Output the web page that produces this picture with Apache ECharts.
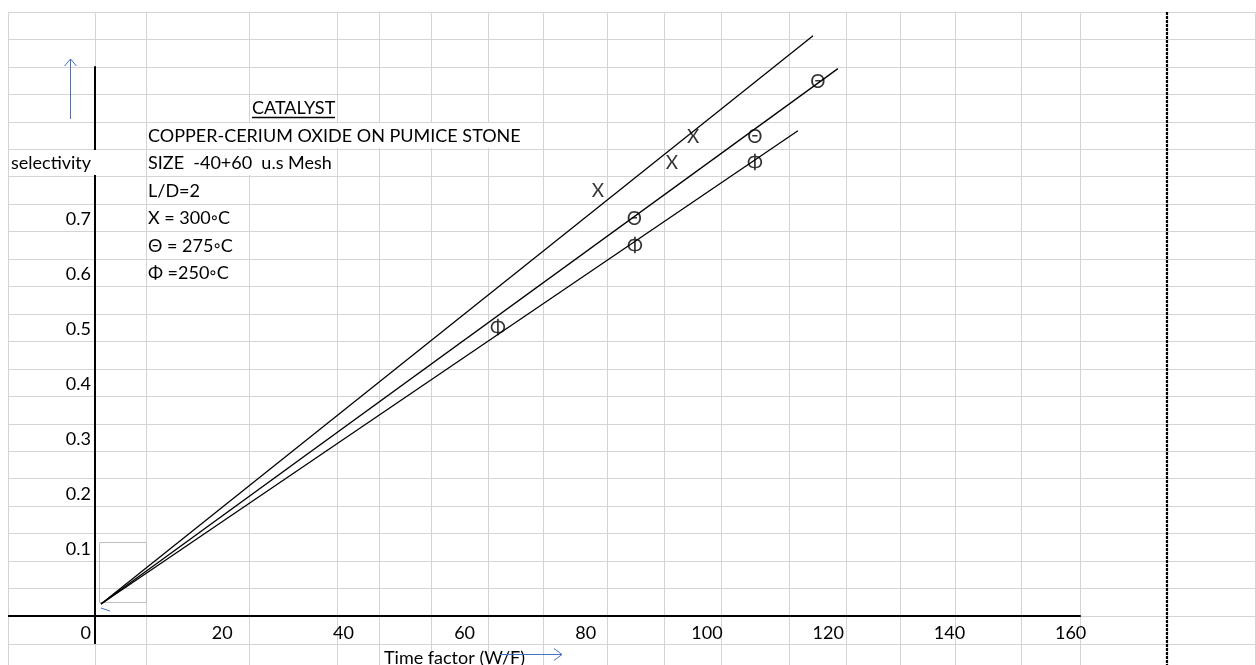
<!DOCTYPE html>
<html>
<head>
<meta charset="utf-8">
<script src="https://cdn.jsdelivr.net/npm/echarts@6/dist/echarts.min.js"></script>
<style>
html,body{margin:0;padding:0;background:#fff;}
#chart{width:1256px;height:665px;}
</style>
</head>
<body>
<div id="chart"></div>
<script>
// ---------------- data ----------------
const xTicks = [0, 20, 40, 60, 80, 100, 120, 140, 160];
const yTicks = [0.1, 0.2, 0.3, 0.4, 0.5, 0.6, 0.7];

// straight lines drawn from the origin for each temperature
const line300 = [[0, 0], [117.5, 1.035]];
const line275 = [[0, 0], [121.6, 0.975]];
const line250 = [[0, 0], [115.0, 0.862]];

// experimental points (time factor, selectivity)
const points300 = [[82.0, 0.752], [94.2, 0.803], [97.7, 0.851]];
const points275 = [[88.0, 0.701], [107.9, 0.851], [118.3, 0.951]];
const points250 = [[65.5, 0.503], [88.1, 0.652], [107.9, 0.803]];

const marker300 = 'X';
const marker275 = 'Θ';
const marker250 = 'Φ';

const noteTitle = 'CATALYST';
const noteLines = [
  'COPPER-CERIUM OXIDE ON PUMICE STONE',
  'SIZE  -40+60  u.s Mesh',
  'L/D=2',
  'X = 300◦C',
  'Θ = 275◦C',
  'Φ =250◦C'
];
const xName = 'Time factor (W/F)';
const yName = 'selectivity';

// ---------------- layout ----------------
const FONT = "Lato, 'DejaVu Sans', sans-serif";
const FS = 18;
const colEdges = [8, 95, 146, 249, 337, 379, 431, 488, 543, 607, 664, 721, 789, 846, 900, 955, 1021, 1080, 1167, 1255];
const rowEdges = [12, 39, 67, 94, 122, 149, 176, 204, 231, 259, 286, 314, 341, 369, 396, 424, 451, 478, 506, 533, 561, 588, 616, 644];
const W = 1256, H = 665;
const G = { left: 95, top: 67, right: 1080, bottom: 616 };
const xMin = -0.99, xMax = 161.55, yMin = -0.0219, yMax = 0.978;
const GRID_COLOR = '#d4d4d4';
const BLUE = '#4472C4';

const graphics = [];
// spreadsheet cell grid
colEdges.forEach(x => graphics.push({
  type: 'line', z: -3, silent: true,
  shape: { x1: x + 0.5, y1: rowEdges[0], x2: x + 0.5, y2: H },
  style: { stroke: GRID_COLOR, lineWidth: 1 }
}));
rowEdges.forEach(y => graphics.push({
  type: 'line', z: -3, silent: true,
  shape: { x1: colEdges[0], y1: y + 0.5, x2: W, y2: y + 0.5 },
  style: { stroke: GRID_COLOR, lineWidth: 1 }
}));
// text overflow hides cell borders
graphics.push({ type: 'rect', z: -2, silent: true, shape: { x: 147, y: 123, width: 395, height: 25 }, style: { fill: '#fff' } });
graphics.push({ type: 'rect', z: -2, silent: true, shape: { x: 147, y: 150, width: 189, height: 25 }, style: { fill: '#fff' } });
// page break
graphics.push({
  type: 'line', z: 1, silent: true,
  shape: { x1: 1167, y1: rowEdges[0], x2: 1167, y2: H },
  style: { stroke: '#000', lineWidth: 2.2, lineDash: [3, 1] }
});
// axis extensions beyond the plot area
graphics.push({ type: 'line', z: 1, silent: true, shape: { x1: colEdges[0], y1: G.bottom, x2: G.left, y2: G.bottom }, style: { stroke: '#000', lineWidth: 2 } });
graphics.push({ type: 'line', z: 1, silent: true, shape: { x1: G.left, y1: G.bottom, x2: G.left, y2: 644 }, style: { stroke: '#000', lineWidth: 2 } });
// empty grey box near origin and small blue stroke
graphics.push({ type: 'rect', z: 1, silent: true, shape: { x: 99.5, y: 542.5, width: 47, height: 60 }, style: { fill: 'none', stroke: '#bfbfbf', lineWidth: 1 } });
graphics.push({ type: 'line', z: 1, silent: true, shape: { x1: 101, y1: 608, x2: 110, y2: 611 }, style: { stroke: BLUE, lineWidth: 1 } });
// blue arrows
graphics.push({ type: 'line', z: 5, silent: true, shape: { x1: 70.5, y1: 119, x2: 70.5, y2: 59 }, style: { stroke: BLUE, lineWidth: 1 } });
graphics.push({ type: 'polyline', z: 5, silent: true, shape: { points: [[64.5, 66], [70.5, 59], [76.5, 66]] }, style: { stroke: BLUE, fill: 'none', lineWidth: 1 } });
graphics.push({ type: 'line', z: 5, silent: true, shape: { x1: 500, y1: 654.5, x2: 562, y2: 654.5 }, style: { stroke: BLUE, lineWidth: 1 } });
graphics.push({ type: 'polyline', z: 5, silent: true, shape: { points: [[554, 648.5], [562, 654.5], [554, 660.5]] }, style: { stroke: BLUE, fill: 'none', lineWidth: 1 } });
// y axis title (its cell hides the axis line)
graphics.push({ type: 'rect', z: 5, silent: true, shape: { x: 9, y: 150, width: 89, height: 25 }, style: { fill: '#fff' } });
graphics.push({ type: 'text', z: 6, silent: true, x: 11, y: 163, style: { text: yName, fill: '#000', fontSize: FS, fontFamily: FONT, verticalAlign: 'middle', align: 'left' } });
// x axis title
graphics.push({ type: 'text', z: 4, silent: true, x: 384, y: 658, style: { text: xName, fill: '#000', fontSize: FS, fontFamily: FONT, verticalAlign: 'middle', align: 'left' } });
// catalyst note
graphics.push({ type: 'text', z: 6, silent: true, x: 252, y: 108, style: { text: noteTitle, fill: '#000', fontSize: FS, fontFamily: FONT, verticalAlign: 'middle', align: 'left' } });
graphics.push({ type: 'line', z: 6, silent: true, shape: { x1: 252, y1: 117.5, x2: 335, y2: 117.5 }, style: { stroke: '#000', lineWidth: 1.3 } });
noteLines.forEach((t, i) => graphics.push({
  type: 'text', z: 6, silent: true, x: 148, y: 136 + 27.5 * i,
  style: { text: t, fill: '#000', fontSize: FS, fontFamily: FONT, verticalAlign: 'middle', align: 'left' }
}));

function lineSeries(name, data) {
  return {
    name, type: 'line', data, symbol: 'none', clip: false, silent: true, z: 3,
    lineStyle: { color: '#000', width: 1.3 }
  };
}
function markerSeries(name, data, ch) {
  return {
    name, type: 'scatter', data, symbol: 'circle', symbolSize: 1, clip: false, silent: true, z: 4,
    itemStyle: { color: 'rgba(0,0,0,0)' },
    label: { show: true, position: 'inside', formatter: ch, color: '#000', fontSize: 19, fontFamily: FONT }
  };
}

const chart = echarts.init(document.getElementById('chart'), null, { renderer: 'canvas' });
chart.setOption({
  backgroundColor: '#fff',
  animation: false,
  tooltip: { show: false },
  grid: {
    left: G.left, top: G.top, width: G.right - G.left, height: G.bottom - G.top,
    containLabel: false, outerBoundsMode: 'none'
  },
  xAxis: {
    type: 'value', min: xMin, max: xMax,
    axisLine: { show: true, onZero: false, lineStyle: { color: '#000', width: 2 } },
    axisTick: { show: false },
    splitLine: { show: false },
    axisLabel: {
      customValues: xTicks, margin: 8, color: '#000', fontSize: FS, fontFamily: FONT,
      alignMinLabel: 'right',
      formatter: v => (v === 0 ? '{z|0}' : String(v)),
      rich: { z: { padding: [0, 10, 0, 0], fontSize: FS, fontFamily: FONT, color: '#000' } }
    }
  },
  yAxis: {
    type: 'value', min: yMin, max: yMax,
    axisLine: { show: true, onZero: false, lineStyle: { color: '#000', width: 2 } },
    axisTick: { show: false },
    splitLine: { show: false },
    axisLabel: { customValues: yTicks, margin: 4, color: '#000', fontSize: FS, fontFamily: FONT }
  },
  graphic: { elements: graphics },
  series: [
    lineSeries('300°C fit', line300),
    lineSeries('275°C fit', line275),
    lineSeries('250°C fit', line250),
    markerSeries('300°C', points300, marker300),
    markerSeries('275°C', points275, marker275),
    markerSeries('250°C', points250, marker250)
  ]
});
</script>
</body>
</html>
